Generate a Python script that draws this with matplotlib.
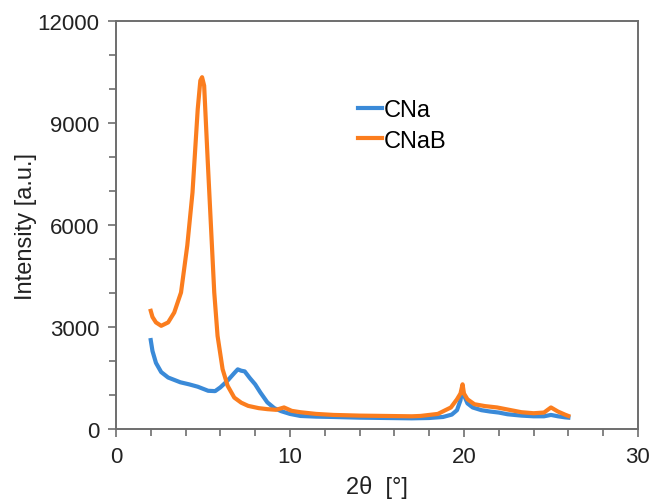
import matplotlib.pyplot as plt
from matplotlib.ticker import MultipleLocator

plt.rcParams['font.family'] = ['Liberation Sans', 'DejaVu Sans']

# values
cna_x = [2.0, 2.1, 2.3, 2.6, 3.0, 3.4, 3.7, 4.2, 4.7, 5.3, 5.7, 6.0, 6.4, 6.8, 7.0, 7.2,
         7.4, 7.7, 8.0, 8.3, 8.7, 9.1, 9.5, 10.0, 10.6, 11.5, 12.5, 14.0, 15.5, 17.0,
         18.0, 18.8, 19.3, 19.6, 19.8, 19.9, 20.0, 20.2, 20.5, 21.0, 21.5, 22.0, 22.5,
         23.3, 24.0, 24.6, 25.0, 25.4, 25.8, 26.0]
cna_y = [2620, 2300, 1950, 1680, 1520, 1440, 1380, 1320, 1250, 1130, 1120, 1230, 1420,
         1650, 1760, 1720, 1700, 1500, 1320, 1080, 790, 620, 530, 450, 390, 370, 360,
         340, 330, 320, 330, 360, 430, 560, 850, 1180, 1000, 760, 640, 560, 520, 490,
         440, 400, 380, 380, 420, 380, 350, 340]

cnab_x = [2.0, 2.1, 2.3, 2.6, 3.0, 3.35, 3.74, 4.1, 4.4, 4.7, 4.85, 4.95, 5.07, 5.27,
          5.46, 5.65, 5.84, 6.13, 6.42, 6.8, 7.2, 7.6, 8.2, 8.7, 9.2, 9.66, 10.1, 10.6,
          11.5, 12.5, 14.0, 15.5, 17.0, 17.5, 18.5, 19.25, 19.6, 19.8, 19.92, 20.0, 20.2,
          20.6, 21.2, 21.9, 22.5, 23.3, 24.0, 24.6, 25.0, 25.4, 25.8, 26.0]
cnab_y = [3480, 3300, 3140, 3040, 3140, 3430, 4020, 5400, 6960, 9410, 10250, 10350, 10100,
          7940, 5980, 4020, 2745, 1765, 1275, 930, 780, 686, 620, 590, 570, 640, 540, 500,
          450, 420, 400, 390, 380, 390, 450, 640, 880, 1050, 1320, 1050, 880, 735, 680,
          640, 580, 500, 470, 490, 640, 520, 430, 390]

labels = ['CNa', 'CNaB']
colors = ['#3a8ad8', '#fb7d1e']

fig = plt.figure(figsize=(6.55, 5.02), dpi=100)
ax = fig.add_axes([0.177, 0.143, 0.797, 0.813])

ax.plot(cna_x, cna_y, color=colors[0], lw=3, label=labels[0])
ax.plot(cnab_x, cnab_y, color=colors[1], lw=3, label=labels[1])

ax.set_xlim(0, 30)
ax.set_ylim(0, 12000)
ax.set_xticks([0, 10, 20, 30])
ax.set_yticks([0, 3000, 6000, 9000, 12000])
ax.xaxis.set_minor_locator(MultipleLocator(2))
ax.yaxis.set_minor_locator(MultipleLocator(1000))
ax.tick_params(which='both', direction='out', color='#6e6e6e', width=1.2,
               labelsize=16, colors='#6e6e6e', labelcolor='#222222')
ax.tick_params(which='major', length=6, pad=6)
ax.tick_params(which='minor', length=5)

for s in ax.spines.values():
    s.set_color('#6e6e6e')
    s.set_linewidth(1.4)

ax.set_xlabel('2θ  [°]', fontsize=17, color='#222222', labelpad=6)
ax.set_ylabel('Intensity [a.u.]', fontsize=17, color='#222222', labelpad=0)

ax.legend(loc='upper left', bbox_to_anchor=(0.423, 0.86), frameon=False, fontsize=17,
          handlelength=1.0, handletextpad=0.1, labelspacing=0.35)

fig.savefig('out.png', dpi=100)
